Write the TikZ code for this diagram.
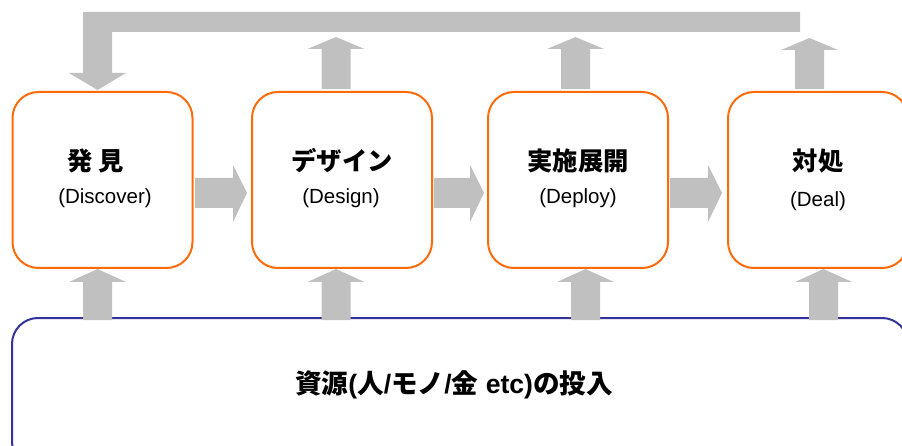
\documentclass[tikz,border=0pt]{standalone}
\usepackage{fontspec}
\setmainfont{Liberation Sans}
\newfontfamily\jp{Noto Sans CJK JP}
\definecolor{boxorange}{HTML}{FF6A0A}
\definecolor{boxblue}{HTML}{333399}
\definecolor{fatgray}{HTML}{C0C0C0}
\begin{document}
\begin{tikzpicture}[x=1pt,y=-1pt,
  stage/.style={draw=boxorange,line width=2pt,rounded corners=26pt,minimum width=180pt,minimum height=176pt,inner sep=0pt,fill=white,align=center},
  pool/.style={draw=boxblue,line width=2pt,rounded corners=26pt,minimum width=896pt,minimum height=150pt,inner sep=0pt,fill=white},
  fat/.style={fill=fatgray,draw=none},
  title/.style={font=\jp\bfseries\fontsize{25.3}{28}\selectfont},
  sub/.style={font=\fontsize{20.5}{24}\selectfont}]
\useasboundingbox (0,0) rectangle (902,446);
% top feedback bar and down arrow
\fill[fat] (83,12) -- (800,12) -- (800,32) -- (112,32) -- (112,73) -- (126,73) -- (97.5,90) -- (69,73) -- (83,73) -- cycle;
% boxes
\node[stage] (b1) at (102.5,180) {};
\node[stage] (b2) at (342,180) {};
\node[stage] (b3) at (578,180) {};
\node[stage] (b4) at (818,180) {};
\node[pool] (res) at (460,393) {};
% box texts
\node[title] (t1) at (96,161) {発 見};
\node[sub] (s1) at (105,198) {(Discover)};
\node[title] (t2) at (342,161) {デザイン};
\node[sub] (s2) at (341,198) {(Design)};
\node[title] (t3) at (578,161) {実施展開};
\node[sub] (s3) at (578,198) {(Deploy)};
\node[title] (t4) at (818,161) {対処};
\node[sub] (s4) at (818,201) {(Deal)};
\node[font=\bfseries\fontsize{26.6}{30}\selectfont] (rt) at (454,385) {{\jp 資源}({\jp 人}/{\jp モノ}/{\jp 金} etc){\jp の投入}};
% horizontal fat arrows between boxes
\foreach \xa/\xb in {195/247,434/484,670/722}{
  \fill[fat] (\xa,178) -- ({\xb-14},178) -- ({\xb-14},165) -- (\xb,193) -- ({\xb-14},222) -- ({\xb-14},208) -- (\xa,208) -- cycle;
}
% up arrows above boxes
\foreach \c/\t in {336/37,575.5/37,809.5/38}{
  \fill[fat] ({\c-14.5},89) -- ({\c-14.5},{\t+12}) -- ({\c-28.5},{\t+12}) -- (\c,\t) -- ({\c+28.5},{\t+12}) -- ({\c+14.5},{\t+12}) -- ({\c+14.5},89) -- cycle;
}
% up arrows from resources box
\foreach \c in {97.5,336,585.5,823.5}{
  \fill[fat] ({\c-14.5},320) -- ({\c-14.5},282) -- ({\c-28.5},282) -- (\c,269) -- ({\c+28.5},282) -- ({\c+14.5},282) -- ({\c+14.5},320) -- cycle;
}
\end{tikzpicture}
\end{document}
